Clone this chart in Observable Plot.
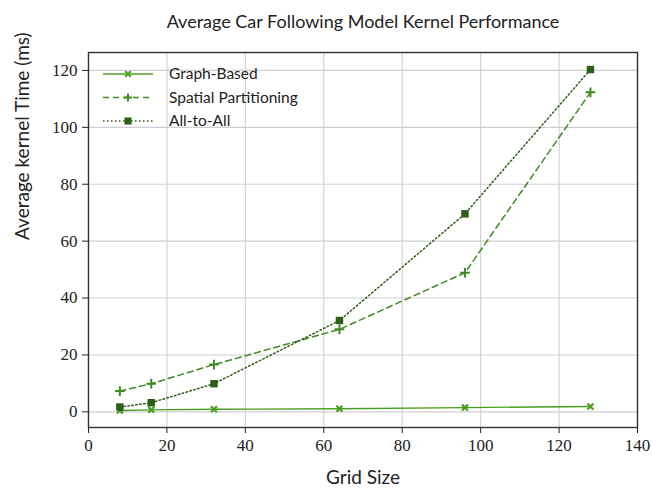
<!DOCTYPE html>
<html>
<head>
<meta charset="utf-8">
<script src="https://cdn.jsdelivr.net/npm/d3@7"></script>
<script src="https://cdn.jsdelivr.net/npm/@observablehq/plot@0.6"></script>
<style>
  html, body { margin: 0; padding: 0; background: #fff; }
  #chart svg { display: block; }
</style>
</head>
<body>
<div id="chart"></div>
<script>
const gridSizes = [8, 16, 32, 64, 96, 128];
const graphBased = [0.5, 0.7, 0.9, 1.1, 1.5, 1.9];
const spatialPartitioning = [7.3, 9.9, 16.6, 29.0, 48.9, 112.3];
const allToAll = [1.7, 3.2, 9.9, 32.1, 69.6, 120.3];
const seriesNames = ["Graph-Based", "Spatial Partitioning", "All-to-All"];
const seriesColors = ["#4a9e1f", "#3f8b22", "#2c5e17"];
const xTicks = [0, 20, 40, 60, 80, 100, 120, 140];
const yTicks = [0, 20, 40, 60, 80, 100, 120];
const titleText = "Average Car Following Model Kernel Performance";
const xLabel = "Grid Size";
const yLabel = "Average kernel Time (ms)";

const rows = (vals, name) => gridSizes.map((g, i) => ({grid: g, value: vals[i], series: name}));
const dGraph = rows(graphBased, seriesNames[0]);
const dSpatial = rows(spatialPartitioning, seriesNames[1]);
const dAll = rows(allToAll, seriesNames[2]);

const sans = "Lato, sans-serif";
const serif = "Liberation Serif, DejaVu Serif, Times New Roman, serif";

const svg = Plot.plot({
  width: 652,
  height: 490,
  marginTop: 52,
  marginBottom: 63,
  marginLeft: 88,
  marginRight: 15,
  style: {background: "#fff"},
  x: {domain: [0, 140], ticks: xTicks},
  y: {domain: [-5.5, 126.3], ticks: yTicks},
  marks: [
    Plot.gridX(xTicks, {stroke: "#cfcfcf", strokeOpacity: 1, strokeWidth: 1.1}),
    Plot.gridY(yTicks, {stroke: "#cfcfcf", strokeOpacity: 1, strokeWidth: 1.1}),
    Plot.axisX(xTicks, {tickSize: 6, stroke: "#222", tickFormat: () => "", label: null}),
    Plot.axisY(yTicks, {tickSize: 6, stroke: "#222", tickFormat: () => "", label: null}),
    Plot.text(xTicks, {x: (d) => d, text: (d) => String(d), frameAnchor: "bottom", dy: 23, fontSize: 17, fontFamily: serif, fill: "#222"}),
    Plot.text(yTicks, {y: (d) => d, text: (d) => String(d), frameAnchor: "left", dx: -11, textAnchor: "end", fontSize: 17, fontFamily: serif, fill: "#222"}),
    Plot.line(dGraph, {x: "grid", y: "value", stroke: seriesColors[0], strokeWidth: 1.4}),
    Plot.line(dSpatial, {x: "grid", y: "value", stroke: seriesColors[1], strokeWidth: 1.5, strokeDasharray: "6,4"}),
    Plot.line(dAll, {x: "grid", y: "value", stroke: seriesColors[2], strokeWidth: 1.5, strokeDasharray: "1.5,2.5"}),
    Plot.dot(dGraph, {x: "grid", y: "value", symbol: "times", stroke: seriesColors[0], strokeWidth: 2.2, r: 2.8}),
    Plot.dot(dSpatial, {x: "grid", y: "value", symbol: "plus", stroke: seriesColors[1], strokeWidth: 2, r: 3.2}),
    Plot.dot(dAll, {x: "grid", y: "value", symbol: "square", fill: seriesColors[2], stroke: "none", r: 4.2}),
    Plot.frame({stroke: "#333", strokeWidth: 1.4}),
    Plot.text([titleText], {frameAnchor: "top", dy: -37, fontSize: 18, fontFamily: sans, fill: "#222"}),
    Plot.text([xLabel], {frameAnchor: "bottom", dy: 56, fontSize: 19, fontFamily: sans, fill: "#222"}),
    Plot.text([yLabel], {frameAnchor: "left", dx: -66, rotate: -90, fontSize: 19, fontFamily: sans, fill: "#222"})
  ]
});

// Legend (layout only)
const lg = d3.select(svg).append("g").attr("transform", "translate(103,74)");
const dashes = [null, "6,4", "1.5,2.5"];
const symbols = [d3.symbolTimes, d3.symbolPlus, d3.symbolSquare];
seriesNames.forEach((name, i) => {
  const g = lg.append("g").attr("transform", `translate(0,${i * 23.5})`);
  g.append("line").attr("x1", 0).attr("x2", 50).attr("y1", 0).attr("y2", 0)
    .attr("stroke", seriesColors[i]).attr("stroke-width", 1.5)
    .attr("stroke-dasharray", dashes[i]);
  const sym = d3.symbol(symbols[i], i === 2 ? 50 : 22)();
  const p = g.append("path").attr("d", sym).attr("transform", "translate(25,0)");
  if (i === 2) p.attr("fill", seriesColors[i]);
  else p.attr("fill", "none").attr("stroke", seriesColors[i]).attr("stroke-width", 2);
  g.append("text").attr("x", 66).attr("y", 0).attr("dy", "0.35em")
    .attr("text-anchor", "start")
    .attr("font-family", sans).attr("font-size", 15.5).attr("fill", "#222").text(name);
});

document.getElementById("chart").appendChild(svg);
</script>
</body>
</html>
